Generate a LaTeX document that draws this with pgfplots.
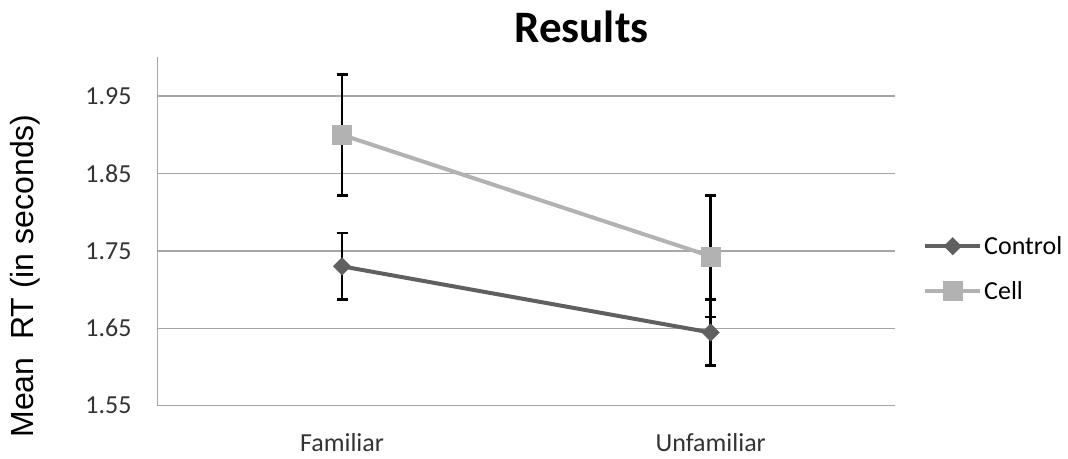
\documentclass[border=0pt]{standalone}
\usepackage{pgfplots}
\pgfplotsset{compat=1.18}
\usepackage{fontspec}
\setmainfont{Carlito}
\newfontfamily\arialfont{Liberation Sans}
\definecolor{ctrl}{RGB}{96,96,96}
\definecolor{cellc}{RGB}{178,178,178}
\definecolor{gridc}{RGB}{166,166,166}
\begin{document}
\begin{tikzpicture}[x=1bp,y=1bp]
\useasboundingbox (0,0) rectangle (1068,459);
\begin{axis}[
  at={(157.7bp,53.3bp)}, anchor=south west,
  scale only axis, width=737.3bp, height=348.4bp,
  xmin=-0.5, xmax=1.5, ymin=1.55, ymax=2.0,
  xtick={0,1}, xticklabels={Familiar,Unfamiliar},
  ytick={1.55,1.65,1.75,1.85,1.95},
  ymajorgrids, grid style={gridc, line width=1.5bp},
  axis x line*=bottom, axis y line*=left,
  axis line style={gridc, line width=1.5bp},
  major tick length=0pt,
  tick label style={font=\fontsize{26bp}{30bp}\selectfont, text=black!80},
  yticklabel style={anchor=east, inner sep=0pt, xshift=-26bp},
  xticklabel style={anchor=base, inner sep=0pt, yshift=-46bp},
  /pgf/number format/.cd, fixed, fixed zerofill, precision=2, assume math mode=true,
  /pgfplots/.cd,
  legend style={at={(1,0.5)}, anchor=west, xshift=28bp, yshift=-37bp, draw=none, fill=none,
    inner sep=0pt, row sep=21bp, font=\fontsize{26bp}{30bp}\selectfont,
    nodes={inner sep=2bp}},
  legend cell align=left,
  legend image code/.code={\draw[#1, mark repeat=2, mark phase=2] plot coordinates {(0bp,0bp) (27.5bp,0bp) (55bp,0bp)};},
]
\addplot[ctrl, line width=4bp, mark=square*, mark size=6.3bp,
  mark options={solid, rotate=45, fill=ctrl, draw=ctrl, line width=0.1bp},
  error bars/.cd, y dir=both, y explicit,
  error bar style={black, line width=2.5bp},
  error mark options={rotate=90, mark size=5.5bp, black, line width=2.5bp}]
  coordinates {(0,1.730) +- (0,0.043) (1,1.6445) +- (0,0.0427)};
\addlegendentry{Control}
\addplot[cellc, line width=4bp, mark=square*, mark size=9.5bp,
  mark options={solid, fill=cellc, draw=cellc, line width=0.1bp},
  error bars/.cd, y dir=both, y explicit,
  error bar style={black, line width=2.5bp},
  error mark options={rotate=90, mark size=5.5bp, black, line width=2.5bp}]
  coordinates {(0,1.8998) +- (0,0.078) (1,1.743) +- (0,0.0786)};
\addlegendentry{Cell}
\end{axis}
\node[rotate=90, anchor=base, font=\arialfont\fontsize{32bp}{38bp}\selectfont] at (33.5,183) {Mean\ \ RT (in seconds)};
\node[anchor=base, font=\bfseries\fontsize{45bp}{54bp}\selectfont] at (581.5,416.3) {Results};
\end{tikzpicture}
\end{document}
